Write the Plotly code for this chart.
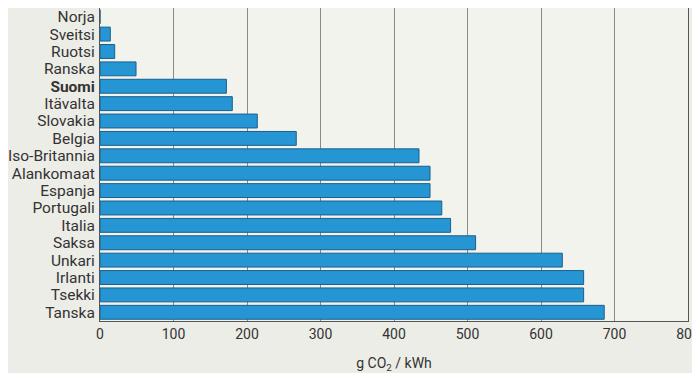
import plotly.graph_objects as go

countries = [
    "Norja", "Sveitsi", "Ruotsi", "Ranska", "Suomi", "Itävalta", "Slovakia",
    "Belgia", "Iso-Britannia", "Alankomaat", "Espanja", "Portugali", "Italia",
    "Saksa", "Unkari", "Irlanti", "Tsekki", "Tanska",
]
emissions = [0, 14, 20, 49, 172, 180, 214, 267, 434, 449, 449, 465, 477,
             511, 629, 658, 658, 686]
x_ticks = [0, 100, 200, 300, 400, 500, 600, 700, 800]

labels = [f"<b>{c}</b>" if c == "Suomi" else c for c in countries]

fig = go.Figure()
fig.add_trace(go.Bar(
    x=emissions,
    y=labels,
    orientation="h",
    marker=dict(color="#2596d3", line=dict(color="#1a5f8c", width=1)),
    hoverinfo="x+y",
))

# the page body keeps an 8px margin, so the figure is sized to fit inside it
fig.update_layout(
    width=692,
    height=365,
    margin=dict(l=92, r=12, t=0, b=52, autoexpand=False),
    paper_bgcolor="#edede7",
    plot_bgcolor="#f3f3ee",
    font=dict(family="Roboto, Arial", size=15, color="#333333"),
    bargap=0.2,
    showlegend=False,
)
fig.update_xaxes(
    range=[0, 800],
    tickmode="array",
    tickvals=x_ticks,
    ticktext=[str(v) for v in x_ticks],
    tickfont=dict(size=14),
    ticklabeloverflow="allow",
    ticks="",
    showgrid=True,
    gridcolor="#8a8a86",
    gridwidth=1,
    showline=True,
    linecolor="#555555",
    linewidth=1,
    mirror=True,
    zeroline=False,
    automargin=False,
    title=dict(text="g CO<sub>2</sub> / kWh", font=dict(size=14), standoff=18),
)
fig.update_yaxes(
    autorange="reversed",
    tickmode="array",
    tickvals=labels,
    ticktext=labels,
    tickfont=dict(size=15.5),
    showline=True,
    linecolor="#555555",
    linewidth=1,
    mirror=True,
    ticks="outside",
    ticklen=1,
    tickcolor="rgba(0,0,0,0)",
    showgrid=False,
    automargin=False,
)

fig.write_html("out.html")
